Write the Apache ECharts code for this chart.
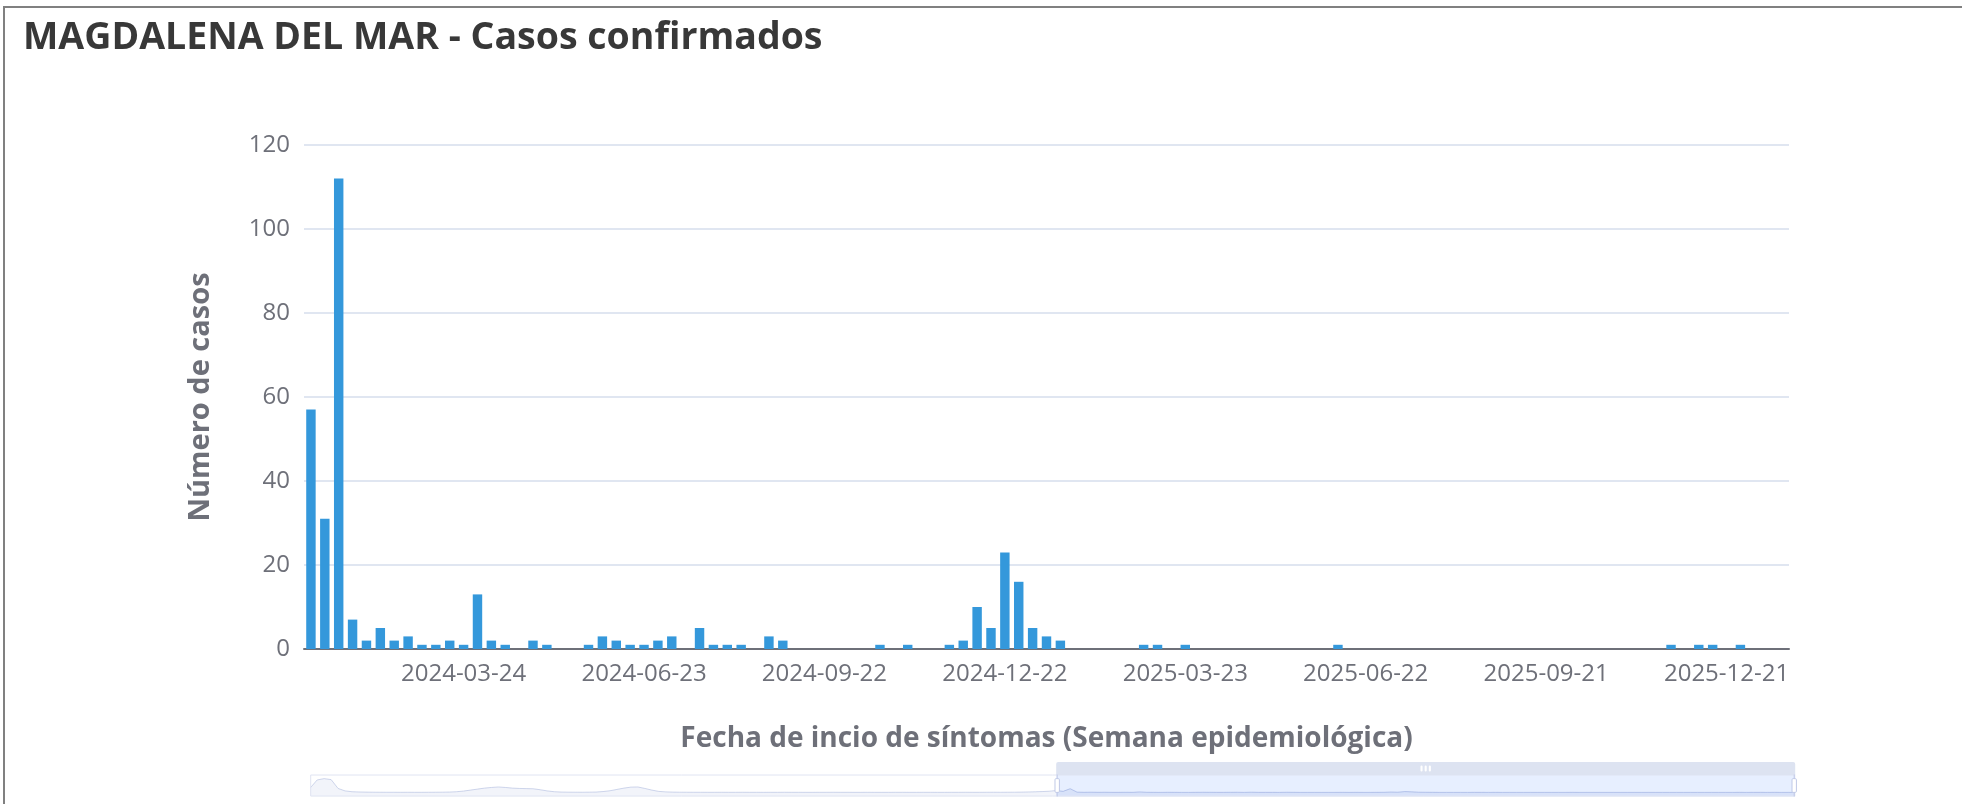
<!DOCTYPE html>
<html>
<head>
<meta charset="utf-8">
<script src="https://cdn.jsdelivr.net/npm/echarts@6/dist/echarts.min.js"></script>
<style>
  html, body { margin: 0; padding: 0; background: #fff; overflow: hidden; }
  #frame { position: absolute; left: 3px; top: 6px; width: 2000px; height: 900px;
           border: 2px solid #808080; box-sizing: border-box; pointer-events: none; z-index: 5; }
  #chart { position: absolute; left: 0; top: 0; width: 1962px; height: 804px; }
</style>
</head>
<body>
<div id="chart"></div>
<div id="frame"></div>
<script>
// ---- data ----
const titleText = 'MAGDALENA DEL MAR - Casos confirmados';
const yAxisTitle = 'Número de casos';
const xAxisTitle = 'Fecha de incio de síntomas (Semana epidemiológica)';
const firstWeek = '2021-12-19';     // first epidemiological week in the data
const firstVisibleWeek = '2024-01-07';
const tickLabels = ['2024-03-24','2024-06-23','2024-09-22','2024-12-22',
                    '2025-03-23','2025-06-22','2025-09-21','2025-12-21'];
// weeks before the visible window (read from the zoom slider's data shadow, estimated)
const casesBefore = [
  135,380,420,390,120,45,20,12,8,5,
  4,3,3,2,3,2,2,3,4,6,
  10,20,40,70,100,130,150,165,150,130,
  120,115,110,80,45,20,10,6,5,4,
  6,10,25,50,90,130,160,165,120,70,
  30,15,8,5,4,3,3,2,2,3,
  2,2,3,2,2,1,2,2,3,2,
  2,1,1,2,2,3,2,2,1,1,
  2,1,1,1,2,2,1,1,2,2,
  1,1,2,2,3,2,2,3,4,3,
  4,5,8,12,18,25,35
];
// weeks shown in the main plot (2024-01-07 .. 2026-01-18)
const casesShown = [
  57,31,112,7,2,5,2,3,1,1,
  2,1,13,2,1,0,2,1,0,0,
  1,3,2,1,1,2,3,0,5,1,
  1,1,0,3,2,0,0,0,0,0,
  0,1,0,1,0,0,1,2,10,5,
  23,16,5,3,2,0,0,0,0,0,
  1,1,0,1,0,0,0,0,0,0,
  0,0,0,0,1,0,0,0,0,0,
  0,0,0,0,0,0,0,0,0,0,
  0,0,0,0,0,0,0,0,1,0,
  1,1,0,1,0,0,0
];

const cases = casesBefore.concat(casesShown);
const weeks = [];
{
  const d0 = new Date(firstWeek + 'T00:00:00Z');
  for (let i = 0; i < cases.length; i++) {
    const d = new Date(d0.getTime() + i * 7 * 86400000);
    weeks.push(d.toISOString().slice(0, 10));
  }
}

const FONT = 'Open Sans';
const chart = echarts.init(document.getElementById('chart'));
chart.setOption({
  animation: false,
  textStyle: { fontFamily: FONT },
  title: {
    text: titleText, left: 18, top: 14,
    textStyle: { fontFamily: FONT, fontSize: 37.5, fontWeight: 'bold', color: '#383838' }
  },
  grid: { left: 304, right: 173, top: 145, bottom: 155, containLabel: false },
  xAxis: {
    type: 'category',
    data: weeks,
    name: xAxisTitle, nameLocation: 'middle', nameGap: 76,
    nameTextStyle: { fontSize: 28, fontWeight: 'bold', color: '#6e7079', fontFamily: FONT },
    axisLine: { lineStyle: { color: '#6e7079', width: 2 } },
    axisTick: { length: 9, lineStyle: { width: 2 } },
    axisLabel: {
      fontSize: 24, margin: 13, color: '#6e7079',
      interval: (idx, val) => tickLabels.includes(val)
    }
  },
  yAxis: {
    type: 'value', min: 0, max: 120, interval: 20,
    name: yAxisTitle, nameLocation: 'middle', nameGap: 89,
    nameTextStyle: { fontSize: 29, fontWeight: 'bold', color: '#6e7079', fontFamily: FONT },
    axisLabel: { fontSize: 24, margin: 14, color: '#6e7079' },
    splitLine: { lineStyle: { color: '#e0e6f1', width: 2 } }
  },
  dataZoom: [{
    type: 'slider', xAxisIndex: 0,
    startValue: firstVisibleWeek, endValue: weeks[weeks.length - 1],
    left: 305, right: 172, top: 762, height: 22,
    moveHandleSize: 13,
    moveHandleStyle: { color: '#dde3f1', opacity: 1 },
    showDetail: false
  }],
  series: [{
    type: 'bar', data: cases, barWidth: '68%',
    itemStyle: { color: '#3498db' }
  }]
});
</script>
</body>
</html>
